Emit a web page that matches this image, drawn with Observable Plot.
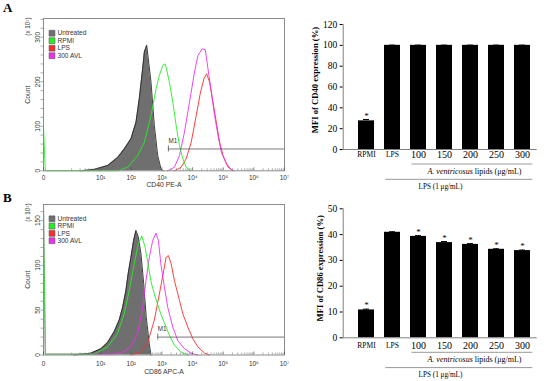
<!DOCTYPE html>
<html><head><meta charset="utf-8">
<script src="https://cdn.jsdelivr.net/npm/d3@7"></script>
<script src="https://cdn.jsdelivr.net/npm/@observablehq/plot@0.6"></script>
<style>
html,body{margin:0;padding:0;background:#fff;}
#fig{position:relative;width:550px;height:381px;overflow:hidden;background:#fff;}
#fig > div.p{position:absolute;line-height:0;}
#fig > div.p svg{display:block;background:none;}
.lab{position:absolute;font:bold 13px "Liberation Serif","Times New Roman",serif;line-height:1;z-index:20;}
</style></head><body>
<div id="fig">
<div class="lab" style="left:3px;top:1px">A</div>
<div class="lab" style="left:3px;top:191px">B</div>
</div>
<script>
const sans = '"Liberation Sans", Arial, sans-serif';
const serif = '"Liberation Serif", "Times New Roman", serif';

// ---- Flow cytometry histograms: [fluorescence intensity, count] ----
// A: CD40 PE-A (count x10)
const cd40Untreated = [[2.1,0],[6,3],[17,12],[36,30],[59,49],[98,72],[143,109],[183,162],[236,229],[267,266],[320,282],[442,199],[567,102],[733,34],[940,4],[1094,0]];
const cd40RPMI = [[0,0],[0,100],[0.02,0],[36,0],[76,8],[162,34],[267,64],[442,124],[645,184],[827,214],[1069,237],[1271,240],[1371,233],[1759,199],[2273,154],[2917,102],[3741,57],[4836,27],[6203,8],[8583,0]];
const cd40LPS = [[2566,0],[4254,8],[6203,27],[9047,64],[13196,124],[18252,177],[23594,207],[28708,218],[36003,199],[46526,154],[59689,109],[76595,64],[98969,34],[144355,8],[210572,0]];
const cd40AVL = [[1559,0],[2566,8],[3741,34],[5457,87],[7958,154],[11605,222],[15003,259],[20759,274],[26028,272],[31910,229],[40941,177],[52508,124],[67874,79],[87068,42],[127000,16],[185000,3],[227000,0]];
const cd40M1 = [1631, 49];

// B: CD86 APC-A (count x10)
const cd86Untreated = [[1.2,0],[4.6,2],[10.2,7],[16.8,14],[27.7,26],[40.4,39],[52.2,53],[67,72],[79.7,91],[97.7,109],[119.8,128],[142.5,139],[169.5,132],[207.8,113],[254.8,80],[310,42],[389,12],[442,0]];
const cd86RPMI = [[0,0],[0,168],[0.02,1],[6,1],[16.8,9],[35.8,24],[58.9,46],[85.9,72],[119.8,98],[162,121],[219,133],[281,121],[361,100],[442,82],[567,68],[733,56],[940,45],[1206,36],[1759,22],[2566,11],[4254,3],[7053,0]];
const cd86LPS = [[97.7,0],[207.8,3],[345,14],[567,39],[827,68],[1206,98],[1371,109],[1631,111],[2000,102],[2566,83],[3741,61],[4836,46],[7053,31],[10285,18],[15003,9],[24691,2],[36003,0]];
const cd86AVL = [[0,0],[0,168],[0.02,1],[21.6,1],[45.9,2],[97.7,9],[162,24],[236,53],[303,83],[389,109],[502,128],[645,136],[767,128],[940,100],[1206,76],[1559,53],[2273,31],[3316,16],[5457,7],[9047,2],[15003,0]];
const cd86M1 = [733, 20];

const histXTicks = [0, 1e1, 1e2, 1e3, 1e4, 1e5, 1e6, 1e7];
const histXTickLabels = ["0","10¹","10²","10³","10⁴","10⁵","10⁶","10⁷"];
const legendLabels = ["Untreated","RPMI","LPS","300 AVL"];
const legendColors = ["#6f6f6f","#22ee22","#ff2a2a","#ee30ee"];

// ---- Bar charts: MFI (%) ----
const barCategories = ["RPMI","LPS","100","150","200","250","300"];
const cd40MFI = [27.5,100,100,100,100,100,100];
const cd40Err = [1.3,0.2,0.2,0.2,0.2,0.2,0.2];
const cd40Sig = [true,false,false,false,false,false,false];
const cd40YTicks = [0,20,40,60,80,100,120];
const cd86MFI = [10.8,40.9,39.3,36.9,36.2,34.3,33.8];
const cd86Err = [0.3,0.2,0.3,0.4,0.3,0.2,0.2];
const cd86Sig = [true,false,true,true,true,true,true];
const cd86YTicks = [0,10,20,30,40,50];
const lipidGroup = ["100","300"];
const lpsGroup = ["LPS","300"];
const lipidLabelItalic = "A. ventricosus";
const lipidLabel = "A. ventricosus lipids (μg/mL)";
const lpsLabel = "LPS (1 μg/mL)";

function histogram(cfg) {
  const W = 292, mL = 43, mR = 8;
  const fw = W - mL - mR, fh = cfg.height - cfg.mTop - cfg.mBottom;
  const X = d => d[0], Y = d => d[1];
  const xMinor = [];
  for (let k = 1; k <= 9; k++) xMinor.push(k);
  for (let e = 1; e <= 6; e++) for (let k = 2; k <= 9; k++) xMinor.push(k * 10 ** e);
  const yMinor = d3.range(0, cfg.yMax + 1e-9, cfg.yMinor);
  const lo = {x: X, y: Y, strokeWidth: 0.9};
  const legendMarks = legendLabels.flatMap((lab, i) => [
    Plot.dot([lab], {frameAnchor: "top-left", dx: 8.5, dy: cfg.legDy + i * cfg.legStep, symbol: "square", r: 3.3, fill: legendColors[i], stroke: "#555", strokeWidth: 0.6}),
    Plot.text([lab], {frameAnchor: "top-left", dx: 14, dy: cfg.legDy + i * cfg.legStep, textAnchor: "start", lineAnchor: "middle", fontSize: 6.6, fill: "#333"})
  ]);
  return Plot.plot({
    width: W, height: cfg.height, marginLeft: mL, marginRight: mR, marginTop: cfg.mTop, marginBottom: cfg.mBottom,
    style: {background: "none", fontFamily: sans, overflow: "visible"},
    x: {type: "symlog", constant: 0.1375, domain: [0, 1e7], axis: null},
    y: {domain: [0, cfg.yMax], axis: null},
    marks: [
      Plot.areaY(cfg.untreated, {x: X, y: Y, fill: "#6f6f6f"}),
      Plot.line(cfg.untreated, {...lo, stroke: "#2a2a2a"}),
      Plot.line(cfg.lps, {...lo, stroke: "#ff2a2a"}),
      Plot.line(cfg.avl, {...lo, stroke: "#ee30ee"}),
      Plot.line(cfg.rpmi, {...lo, stroke: "#22ee22"}),
      Plot.ruleY([cfg.m1], {x1: d => d[0], x2: 1e7, y: d => d[1], stroke: "#555", strokeWidth: 0.8}),
      Plot.ruleX([cfg.m1], {x: d => d[0], y1: d => d[1], y2: d => d[1], insetTop: -3, insetBottom: -3, stroke: "#555", strokeWidth: 0.8}),
      Plot.text([cfg.m1], {x: d => d[0], y: d => d[1], text: () => "M1", dy: -8, textAnchor: "start", lineAnchor: "middle", fontSize: 6.3, fill: "#333"}),
      Plot.frame({stroke: "#8c8c8c"}),
      Plot.tickX(histXTicks, {x: d => d, insetTop: fh - 3, stroke: "#555", strokeWidth: 0.7}),
      Plot.tickX(xMinor, {x: d => d, insetTop: fh - 2, stroke: "#777", strokeWidth: 0.6}),
      Plot.tickY(yMinor, {y: d => d, insetLeft: -2.5, insetRight: fw, stroke: "#777", strokeWidth: 0.6}),
      Plot.text(histXTicks, {x: d => d, text: (d, i) => histXTickLabels[i], frameAnchor: "bottom", lineAnchor: "middle", dy: cfg.tickDy, fontSize: 6.5, fill: "#333"}),
      Plot.text([cfg.xTitle], {frameAnchor: "bottom", lineAnchor: "middle", textAnchor: "middle", dy: cfg.titleDy, fontSize: 6.8, fill: "#333"}),
      Plot.text(cfg.yMajor, {y: d => d, text: d => String(d), frameAnchor: "left", textAnchor: "middle", lineAnchor: "middle", dx: -6, rotate: -90, fontSize: 6.5, fill: "#333"}),
      Plot.text(["Count"], {frameAnchor: "left", textAnchor: "middle", lineAnchor: "middle", dx: -16, rotate: -90, fontSize: 6.8, fill: "#333"}),
      Plot.text(["(x 10¹)"], {frameAnchor: "top-left", dx: -16, dy: -1, rotate: -90, textAnchor: "end", lineAnchor: "middle", fontSize: 6.3, fill: "#444"}),
      ...legendMarks
    ]
  });
}

function barChart(cfg) {
  const W = 258, mL = 50.7, mR = 13.3;
  const rows = barCategories.map((c, i) => ({cat: c, v: cfg.values[i], e: cfg.errors[i], s: cfg.sig[i]}));
  const svg = Plot.plot({
    width: W, height: cfg.height, marginLeft: mL, marginRight: mR, marginTop: cfg.mTop, marginBottom: cfg.mBottom,
    style: {background: "none", fontFamily: serif, fontSize: "9.5px", overflow: "visible", color: "#000"},
    x: {domain: barCategories, range: [65, 239], paddingInner: 0.39, paddingOuter: 0, axis: null},
    y: {domain: [0, cfg.yMax], axis: "left", ticks: cfg.yTicks, tickFormat: d => String(d), tickSize: 3, tickPadding: 3, label: null},
    marks: [
      Plot.barY(rows, {x: "cat", y: "v", fill: "#000"}),
      Plot.ruleX(rows, {x: "cat", y1: "v", y2: d => d.v + d.e, stroke: "#000"}),
      Plot.tickY(rows, {x: "cat", y: d => d.v + d.e, inset: 5, stroke: "#000"}),
      Plot.ruleY([0], {stroke: "#808080"}),
      Plot.frame({anchor: "left", stroke: "#808080"}),
      Plot.text(rows.filter(d => d.s), {x: "cat", y: d => d.v + d.e, text: () => "*", dy: -1, lineAnchor: "bottom", fontSize: 9, fill: "#000"}),
      Plot.text(barCategories.slice(0, 2), {x: d => d, frameAnchor: "bottom", textAnchor: "middle", lineAnchor: "middle", dy: cfg.labDy, fontSize: 7.5, fill: "#000"}),
      Plot.text(barCategories.slice(2), {x: d => d, frameAnchor: "bottom", textAnchor: "middle", lineAnchor: "middle", dy: cfg.labDy, fontSize: 10, fill: "#000"}),
      Plot.ruleY([lipidGroup], {x1: d => d[0], x2: d => d[1], y: 0, dy: 14.5, insetLeft: 1.5, insetRight: -2.3, stroke: "#999"}),
      Plot.ruleY([lpsGroup], {x1: d => d[0], x2: d => d[1], y: 0, dy: 29.8, insetLeft: 1.3, insetRight: -2.3, stroke: "#999"}),
      Plot.text([lipidLabel], {x: () => "200", frameAnchor: "bottom", textAnchor: "middle", lineAnchor: "middle", dx: 4, dy: 21.8, fontSize: 8, fill: "#000"}),
      Plot.text([lpsLabel], {x: () => "150", frameAnchor: "bottom", textAnchor: "middle", lineAnchor: "middle", dx: -4, dy: 37, fontSize: 7.2, fill: "#000"}),
      Plot.text([cfg.yLabel], {frameAnchor: "left", textAnchor: "middle", lineAnchor: "middle", dx: cfg.yLabDx, dy: cfg.yLabDy, rotate: -90, fontWeight: "bold", fontSize: 8.6, fill: "#000"})
    ]
  });
  svg.querySelectorAll("text").forEach(t => {
    if (t.textContent === lipidLabel) {
      while (t.firstChild) t.removeChild(t.firstChild);
      const ts = document.createElementNS("http://www.w3.org/2000/svg", "tspan");
      ts.setAttribute("font-style", "italic");
      ts.textContent = lipidLabelItalic;
      t.appendChild(ts);
      t.appendChild(document.createTextNode(lipidLabel.slice(lipidLabelItalic.length)));
    }
  });
  return svg;
}

function place(el, left, top, w, h, z) {
  const d = document.createElement("div");
  d.className = "p";
  d.style.left = left + "px";
  d.style.top = top + "px";
  d.style.width = w + "px";
  d.style.height = h + "px";
  d.style.zIndex = z;
  el.style.background = "none";
  d.appendChild(el);
  document.getElementById("fig").appendChild(d);
}

place(histogram({untreated: cd40Untreated, rpmi: cd40RPMI, lps: cd40LPS, avl: cd40AVL, m1: cd40M1,
  height: 190, mTop: 18, mBottom: 19.7, yMax: 342, yMajor: [0,100,200,300], yMinor: 20,
  legDy: 14.7, legStep: 7.5, xTitle: "CD40 PE-A", tickDy: 7.5, titleDy: 14}), 0, 0, 292, 190, 1);
place(histogram({untreated: cd86Untreated, rpmi: cd86RPMI, lps: cd86LPS, avl: cd86AVL, m1: cd86M1,
  height: 191, mTop: 14, mBottom: 26.5, yMax: 168, yMajor: [0,50,100,150], yMinor: 10,
  legDy: 14.3, legStep: 7.3, xTitle: "CD86 APC-A", tickDy: 8.5, titleDy: 17}), 0, 190, 292, 191, 2);
place(barChart({values: cd86MFI, errors: cd86Err, sig: cd86Sig, yMax: 50, yTicks: cd86YTicks,
  height: 191, mTop: 18.3, mBottom: 43.7, labDy: 7.7, yLabel: "MFI of CD86 expression (%)", yLabDx: -22.7, yLabDy: -5}), 292, 190, 258, 191, 3);
place(barChart({values: cd40MFI, errors: cd40Err, sig: cd40Sig, yMax: 120, yTicks: cd40YTicks,
  height: 190, mTop: 24, mBottom: 41, labDy: 5.5, yLabel: "MFI of CD40 expression (%)", yLabDx: -27.7, yLabDy: -7}), 292, 0, 258, 190, 4);
</script>
</body></html>
